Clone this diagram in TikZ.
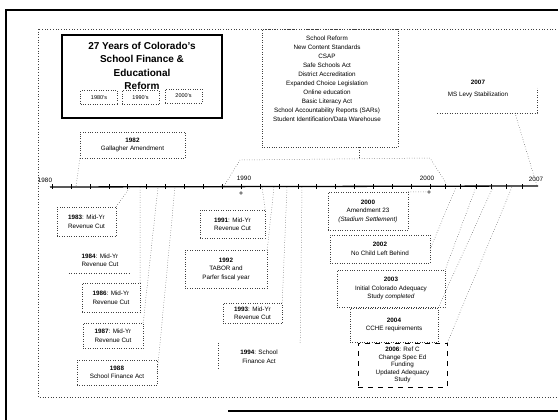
\documentclass[tikz,border=0pt]{standalone}
\usepackage{fontspec}
\setmainfont{Liberation Sans}
\begin{document}
\begin{tikzpicture}[
    x=1pt, y=-1pt,
    evt/.style={draw=black!75, dotted, align=center, inner sep=0pt,
      font=\fontsize{6.3}{8.5}\selectfont},
    conn/.style={draw=black!75, dotted, line width=0.5pt},
    yr/.style={font=\fontsize{6.3}{7}\selectfont, inner sep=0pt},
    decade/.style={draw=black!75, dotted, minimum width=37pt, minimum height=14pt,
      inner sep=0pt, font=\fontsize{5.5}{6}\selectfont},
  ]
  \useasboundingbox (0,0) rectangle (558,420);
  % page edge and frame
  \draw[line width=2.5pt] (6,420) -- (6,10) -- (558,10);
  \draw[line width=1.5pt] (228,411) -- (558,411);
  \draw[black!75, dotted, line width=0.7pt] (38,29) rectangle (562,397);

  % title
  \node[draw, line width=1.4pt, minimum width=160pt, minimum height=83pt] (titlebox) at (142,76.5) {};
  \node[font=\bfseries\fontsize{10}{13.5}\selectfont, align=center] (title) at (142,66)
    {27 Years of Colorado's\\School Finance \&\\Educational\\Reform};
  \node[decade] (d80) at (99,97.5) {1980's};
  \node[decade] (d90) at (140.5,97.5) {1990's};
  \node[decade] (d00) at (183.5,96) {2000's};

  % reforms of the 90s
  \node[draw=black!75, dotted, minimum width=136pt, minimum height=118pt] (refbox) at (330,88) {};
  \node[align=center, font=\fontsize{6.3}{9}\selectfont] (reforms) at (327,78.5)
    {School Reform\\New Content Standards\\CSAP\\Safe Schools Act\\District Accreditation\\
     Expanded Choice Legislation\\Online education\\Basic Literacy Act\\
     School Accountability Reports (SARs)\\Student Identification/Data Warehouse};
  \coordinate (b1) at (224,186);
  \coordinate (b2) at (240,160);
  \coordinate (b3) at (430,158);
  \coordinate (b4) at (446,183);
  \coordinate (tk) at (359,158);
  \draw[conn] (b1) -- (b2) -- (b3) -- (b4);
  \draw[conn] (tk |- refbox.south) -- (tk);

  % 2007
  \node[align=center, font=\fontsize{6.3}{12}\selectfont] (levy) at (478,89)
    {\textbf{2007}\\MS Levy Stabilization};
  \draw[conn] (437,113) -| (537,88);
  \coordinate (levyfoot) at (515,113);

  % timeline
  \draw[line width=1.3pt] (50,187) -- (538,186);
  \foreach \xx in {52,70.9,...,431} \draw (\xx,184.5) -- (\xx,189.5);
  \foreach \xx in {445.3,460.6,...,537} \draw (\xx,184.5) -- (\xx,189.5);
  \node[yr] (l80) at (45,180) {1980};
  \node[yr] (l90) at (244,178) {1990};
  \node[yr] (l00) at (427,178) {2000};
  \node[yr] (l07) at (536,179) {2007};
  \node[circle, draw, inner sep=0pt, minimum size=2.6pt] (o90) at (241,193) {};
  \node[circle, draw, inner sep=0pt, minimum size=2.6pt] (o00) at (429,192) {};
  \coordinate (t82) at (76,187);
  \coordinate (t83) at (130,187);
  \coordinate (t86) at (140,187);
  \coordinate (t87) at (158,187);
  \coordinate (t88) at (175,187);
  \coordinate (t91) at (262,187);
  \coordinate (t92) at (274,187);
  \coordinate (t93) at (287,187);
  \coordinate (t94) at (302,187);
  \coordinate (t02) at (456,187);
  \coordinate (t03) at (476,187);
  \coordinate (t04) at (493,187);
  \coordinate (t06) at (512,187);
  \coordinate (t07) at (537,186);

  % events
  \node[evt, minimum width=105pt, minimum height=26pt] (gall) at (132.5,145) {\textbf{1982}\\Gallagher Amendment};
  \node[evt, minimum width=59pt, minimum height=29pt] (c83) at (86.5,221.5) {\textbf{1983}: Mid-Yr\\Revenue Cut};
  \node[evt, draw=none, minimum width=62pt, minimum height=26pt] (c84) at (100,260) {\textbf{1984}: Mid-Yr\\Revenue Cut};
  \node[evt, minimum width=58pt, minimum height=29pt] (c86) at (111,297.5) {\textbf{1986}: Mid-Yr\\Revenue Cut};
  \node[evt, minimum width=60pt, minimum height=25pt] (c87) at (113,335.5) {\textbf{1987}: Mid-Yr\\Revenue Cut};
  \node[evt, minimum width=80pt, minimum height=25pt] (c88) at (117,372.5) {\textbf{1988}\\School Finance Act};
  \node[evt, minimum width=65pt, minimum height=28pt] (c91) at (232.5,224) {\textbf{1991}: Mid-Yr\\Revenue Cut};
  \node[evt, minimum width=82pt, minimum height=38pt] (c92) at (226,269) {\textbf{1992}\\TABOR and\\Parfer fiscal year};
  \node[evt, minimum width=59pt, minimum height=20pt] (c93) at (252.5,313) {\textbf{1993}: Mid-Yr\\Revenue Cut};
  \node[evt, draw=none, minimum width=82pt, minimum height=27pt] (c94) at (259,356.5) {\textbf{1994}: School\\Finance Act};
  \node[evt, minimum width=80pt, minimum height=38pt] (c00) at (368,211) {\textbf{2000}\\Amendment 23\\\textit{(Stadium Settlement)}};
  \node[evt, minimum width=100pt, minimum height=28pt] (c02) at (380,249) {\textbf{2002}\\No Child Left Behind};
  \node[evt, minimum width=108pt, minimum height=37pt] (c03) at (391,288.5) {\textbf{2003}\\Initial Colorado Adequacy\\Study \textit{completed}};
  \node[evt, minimum width=88pt, minimum height=34pt] (c04) at (394,325) {\textbf{2004}\\CCHE requirements};
  \node[evt, draw=black, solid, dash pattern=on 5pt off 5pt, line width=0.8pt, minimum width=89pt, minimum height=44pt,
    font=\fontsize{6.3}{7.6}\selectfont] (c06) at (402.5,365)
    {\textbf{2006}: Ref C\\Change Spec Ed\\Funding\\Updated Adequacy\\Study};
  \draw[conn] (c84.south west) -- (c84.south east);
  \draw[conn] (c94.north west) -- (c94.south west);

  % connectors
  \draw[conn] (gall.south west) -- (t82);
  \draw[conn] (c83.north east) -- (t83);
  \draw[conn] (c86.north east) -- (t86);
  \draw[conn] (c87.north east) -- (t87);
  \draw[conn] (c88.east) -- (t88);
  \draw[conn] (c91.north east) -- (t91);
  \draw[conn] (c92.north east) -- (t92);
  \draw[conn] (c93.north east) -- (t93);
  \draw[conn] (c94.north east) -- (t94);
  \draw[conn] (c00.north east) -- (o00);
  \draw[conn] (c02.east) -- (t02);
  \draw[conn] (c03.north east) -- (t03);
  \draw[conn] (c04.north east) -- (t04);
  \draw[conn] (c06.north east) -- (t06);
  \draw[conn] (levyfoot) -- (t07);
\end{tikzpicture}
\end{document}
